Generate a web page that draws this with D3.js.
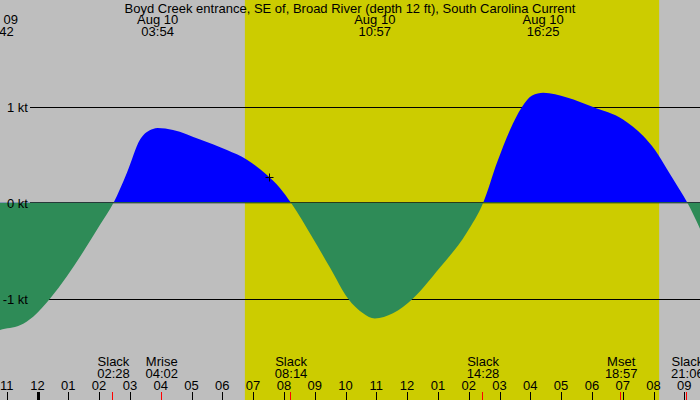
<!DOCTYPE html>
<html>
<head>
<meta charset="utf-8">
<script src="https://cdn.jsdelivr.net/npm/d3@7"></script>
<style>
  body { margin: 0; }
  svg text { font-family: "Liberation Sans", Arial, sans-serif; font-size: 13px; fill: #000; }
</style>
</head>
<body>
<div id="chart"></div>
<script>
// hours are counted from Aug 10 00:00 (negative = Aug 9)
const title = "Boyd Creek entrance, SE of, Broad River (depth 12 ft), South Carolina Current";

// current speed (kt, + flood / - ebb)
const curHours = [-1.30, -1.22, -0.57, -0.14, 0.41, 0.95, 1.49, 2.03, 2.47,
                  2.90, 3.33, 3.75, 3.90, 4.40, 5.28, 6.15, 6.80, 7.45, 7.87, 8.23,
                  8.94, 9.50, 10.08, 10.57, 10.95, 11.54, 12.19, 13.06, 13.94, 14.47,
                  14.92, 15.34, 15.73, 16.06, 16.42, 17.19, 18.04, 19.01, 19.66, 20.05, 20.44, 20.86, 21.10,
                  21.55];
const curKt    = [-1.34, -1.33, -1.28, -1.19, -1.00, -0.77, -0.51, -0.23, 0,
                  0.31, 0.66, 0.77, 0.78, 0.76, 0.66, 0.55, 0.45, 0.29, 0.155, 0,
                  -0.37, -0.68, -1.00, -1.155, -1.21, -1.155, -1.00, -0.68, -0.31, 0,
                  0.42, 0.76, 1.00, 1.12, 1.15, 1.10, 1.00, 0.87, 0.70, 0.55, 0.35, 0.13, 0,
                  -0.30];

// max/min labels along the top
const peakDates = ["Aug 09", "Aug 10", "Aug 10", "Aug 10"];
const peakTimes = ["22:42", "03:54", "10:57", "16:25"];

// slack and moon events along the bottom
const eventNames = ["Slack", "Mrise", "Slack", "Slack", "Mset", "Slack"];
const eventTimes = ["02:28", "04:02", "08:14", "14:28", "18:57", "21:06"];

const sunrise = "06:44";
const sunset = "20:11";
const nowTime = "07:31";

const ktTicks = [-1, 0, 1];
const hourTicks = d3.range(-1, 22);

const width = 700, height = 400;

function toHours(s, day) {
    const p = s.split(":");
    return +p[0] + p[1] / 60 + (day === "Aug 09" ? -24 : 0);
}

const svg = d3.select("#chart")
    .append("svg")
    .attr("width", width)
    .attr("height", height);

const x = d3.scaleLinear()
    .domain([-37.5 / 30.8, (700 - 37.5) / 30.8])
    .range([0, width]);

const y = d3.scaleLinear()
    .domain([-1, 1])
    .range([298.5, 107]);

// night / day background
svg.append("rect")
    .attr("width", width).attr("height", height)
    .attr("fill", "#bebebe");

svg.append("rect")
    .attr("x", x(toHours(sunrise)))
    .attr("width", x(toHours(sunset)) - x(toHours(sunrise)))
    .attr("height", height)
    .attr("fill", "#cccc00");

// kt grid lines
svg.selectAll(".grid")
    .data(ktTicks.filter(d => d !== 0))
    .join("line")
    .attr("class", "grid")
    .attr("x1", 30).attr("x2", width)
    .attr("y1", d => Math.round(y(d)) + 0.5)
    .attr("y2", d => Math.round(y(d)) + 0.5)
    .attr("stroke", "#000");

const data = curHours.map((h, i) => ({ h: h, v: curKt[i] }));
const zeroY = y(0);

const area = d3.area()
    .x(d => x(d.h))
    .y0(zeroY)
    .y1(d => y(d.v))
    .curve(d3.curveMonotoneX);

const defs = svg.append("defs");
defs.append("clipPath").attr("id", "clip-flood")
    .append("rect").attr("width", width).attr("height", zeroY);
defs.append("clipPath").attr("id", "clip-ebb")
    .append("rect").attr("y", zeroY - 0.6).attr("width", width).attr("height", height);

svg.append("path")
    .datum(data)
    .attr("clip-path", "url(#clip-flood)")
    .attr("fill", "#0000ff")
    .attr("d", area);

// zero line
svg.append("line")
    .attr("x1", 30).attr("x2", width)
    .attr("y1", zeroY).attr("y2", zeroY)
    .attr("stroke", "#000");

svg.append("path")
    .datum(data)
    .attr("clip-path", "url(#clip-ebb)")
    .attr("fill", "#2e8b57")
    .attr("d", area);

// current time marker
const nowH = toHours(nowTime);
const nowV = d3.interpolateNumber(0.29, 0.155)((nowH - 7.45) / (7.87 - 7.45));
const nx = Math.round(x(nowH)) + 0.5, ny = Math.round(y(nowV)) + 0.5;
svg.append("path")
    .attr("d", `M${nx - 4},${ny}H${nx + 4}M${nx},${ny - 4}V${ny + 4}`)
    .attr("stroke", "#000");

// kt labels
svg.selectAll(".kt")
    .data(ktTicks)
    .join("text")
    .attr("class", "kt")
    .attr("x", 28)
    .attr("y", d => y(d) + 5)
    .attr("text-anchor", "end")
    .text(d => d + " kt");

// title and peaks
svg.append("text")
    .attr("x", 350).attr("y", 13)
    .attr("text-anchor", "middle")
    .text(title);

const peaks = svg.selectAll(".peak")
    .data(peakTimes.map((t, i) => ({ t: t, day: peakDates[i] })))
    .join("g")
    .attr("class", "peak")
    .attr("transform", d => `translate(${x(toHours(d.t, d.day))},0)`);
peaks.append("text").attr("y", 24).attr("text-anchor", "middle").text(d => d.day);
peaks.append("text").attr("y", 36).attr("text-anchor", "middle").text(d => d.t);

// hour axis
const hourFmt = h => {
    const r = ((h % 12) + 12) % 12;
    return String(r === 0 ? 12 : r).padStart(2, "0");
};

svg.selectAll(".hour")
    .data(hourTicks)
    .join("text")
    .attr("class", "hour")
    .attr("x", d => x(d))
    .attr("y", 390)
    .attr("text-anchor", "middle")
    .text(hourFmt);

svg.selectAll(".htick")
    .data(hourTicks)
    .join("line")
    .attr("class", "htick")
    .attr("x1", d => Math.round(x(d)) + 0.5)
    .attr("x2", d => Math.round(x(d)) + 0.5)
    .attr("y1", 392).attr("y2", height)
    .attr("stroke", "#000")
    .attr("stroke-width", d => d % 24 === 0 ? 3 : 1);

// events
const events = eventNames.map((n, i) => ({ name: n, t: eventTimes[i] }));

svg.selectAll(".etick")
    .data(events)
    .join("line")
    .attr("class", "etick")
    .attr("x1", d => Math.round(x(toHours(d.t))) - 0.5)
    .attr("x2", d => Math.round(x(toHours(d.t))) - 0.5)
    .attr("y1", 392).attr("y2", height)
    .attr("stroke", "#ff0000");

const ev = svg.selectAll(".event")
    .data(events)
    .join("g")
    .attr("class", "event")
    .attr("transform", d => `translate(${x(toHours(d.t))},0)`);
ev.append("text").attr("y", 366).attr("text-anchor", "middle").text(d => d.name);
ev.append("text").attr("y", 378).attr("text-anchor", "middle").text(d => d.t);
</script>
</body>
</html>
